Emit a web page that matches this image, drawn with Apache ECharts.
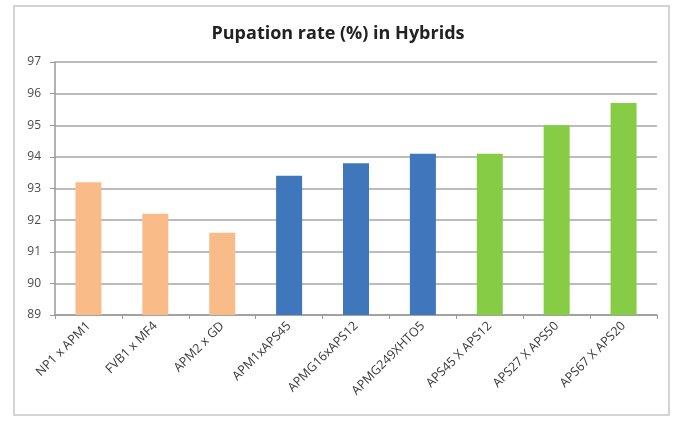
<!DOCTYPE html>
<html>
<head>
<meta charset="utf-8">
<script src="https://cdn.jsdelivr.net/npm/echarts@6/dist/echarts.min.js"></script>
<style>
  html, body { margin: 0; padding: 0; background: #fff; }
  #frame { position: absolute; left: 13px; top: 5px; width: 657px; height: 411px; border: 2px solid #d4d4d4; box-sizing: border-box; }
  #chart { position: absolute; left: 0; top: 0; width: 676px; height: 421px; }
</style>
</head>
<body>
<div id="frame"></div>
<div id="chart"></div>
<script>
// Hybrid crosses and their pupation rates (%)
const hybrids = ['NP1 x APM1', 'FVB1 x MF4', 'APM2 x GD', 'APM1xAPS45', 'APMG16xAPS12', 'APMG249XHTO5', 'APS45 X APS12', 'APS27 X APS50', 'APS67 X APS20'];
const pupationRate = [93.2, 92.2, 91.6, 93.4, 93.8, 94.1, 94.1, 95.0, 95.7];
// Colour group of each cross
const groupOf = ['a', 'a', 'a', 'b', 'b', 'b', 'c', 'c', 'c'];
const groupColors = { a: '#F9BC88', b: '#3F76BC', c: '#86CC44' };

const chart = echarts.init(document.getElementById('chart'), null, { renderer: 'canvas' });
chart.setOption({
  animation: false,
  title: {
    text: 'Pupation rate (%) in Hybrids',
    left: 'center',
    top: 20,
    textStyle: { fontFamily: 'Open Sans', fontWeight: 'bold', fontSize: 18, color: '#222' }
  },
  grid: { left: 55, right: 19, top: 62, bottom: 106, containLabel: false },
  xAxis: {
    type: 'category',
    data: hybrids,
    axisLine: { lineStyle: { color: '#999', width: 1.5 } },
    axisTick: { show: true, alignWithLabel: false, length: 4, lineStyle: { color: '#999' } },
    axisLabel: {
      rotate: 45, interval: 0, margin: 9,
      fontFamily: 'Open Sans', fontSize: 12.5, color: '#383838'
    }
  },
  yAxis: {
    type: 'value',
    min: 89, max: 97, interval: 1,
    axisLine: { show: true, lineStyle: { color: '#999', width: 1.5 } },
    axisTick: { show: true, length: 5, lineStyle: { color: '#999' } },
    axisLabel: { fontFamily: 'Open Sans', fontSize: 12, color: '#4a4a4a', margin: 14 },
    splitLine: { lineStyle: { color: '#a6a6a6', width: 1.5 } }
  },
  series: [{
    type: 'bar',
    barWidth: 26,
    data: pupationRate.map((v, i) => ({ value: v, itemStyle: { color: groupColors[groupOf[i]] } }))
  }]
});
</script>
</body>
</html>
